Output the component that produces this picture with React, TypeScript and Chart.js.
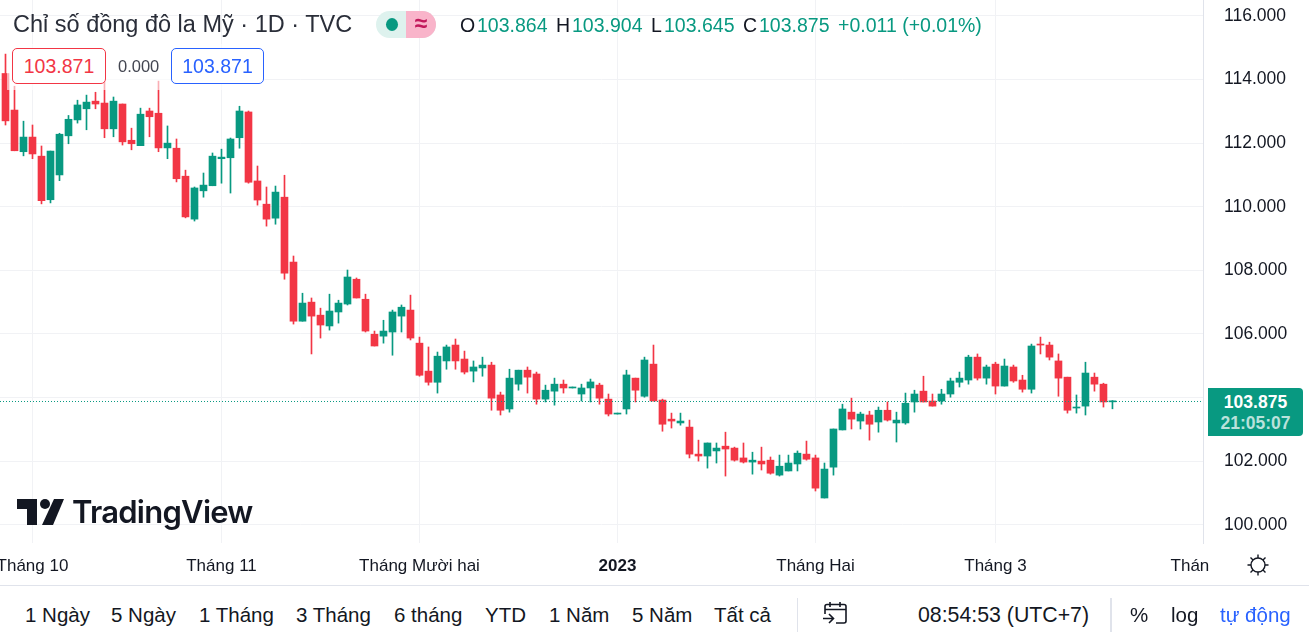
import { useEffect, useRef } from 'react';
import type { CSSProperties } from 'react';
import Chart from 'chart.js/auto';

const GREEN = '#089981';
const RED = '#f23645';
const BLUE = '#2962ff';
const INK = '#131722';
const GRID = '#f1f2f5';
const LINE = '#e0e3eb';
const FONT = '"Liberation Sans", Arial, sans-serif';

const opens = [
  114.19, 113.04, 111.73, 112.19, 111.59, 110.22, 111.0, 112.23, 112.73, 113.08,
  113.32, 113.26, 112.45, 113.23, 112.09, 111.92, 113.01, 112.94, 111.85, 111.84,
  110.96, 109.61, 110.5, 110.66, 111.51, 111.54, 112.17, 112.98, 110.81, 110.08,
  109.64, 110.3, 108.26, 106.4, 107.0, 106.59, 106.25, 106.69, 106.94, 107.72,
  107.09, 105.99, 105.93, 106.06, 106.56, 106.75, 105.71, 104.83, 104.48, 105.15,
  105.65, 105.21, 104.83, 104.93, 105.02, 104.08, 103.64, 104.42, 104.86, 104.74,
  103.95, 104.2, 104.42, 104.3, 104.11, 104.3, 104.39, 103.95, 103.48, 103.64,
  104.61, 104.04, 105.05, 103.92, 103.32, 103.2, 103.07, 102.22, 102.16, 102.32,
  102.47, 102.41, 102.1, 101.97, 102.0, 102.03, 101.56, 101.69, 101.91, 102.22,
  102.1, 100.84, 101.81, 102.98, 103.54, 103.26, 103.45, 103.23, 103.6, 103.2,
  103.2, 103.86, 104.2, 103.89, 103.89, 104.11, 104.48, 104.55, 105.27, 104.61,
  105.05, 104.36, 104.96, 104.55, 104.26, 105.68, 105.65, 105.15, 104.64, 103.67,
  103.73, 104.64, 104.42, 103.864,
];
const highs = [
  114.8, 113.79, 112.69, 112.57, 111.91, 111.75, 112.31, 112.87, 113.35, 113.51,
  113.6, 113.93, 113.45, 113.23, 112.47, 113.1, 113.1, 113.95, 112.54, 112.13,
  111.15, 110.62, 111.06, 111.69, 111.81, 112.16, 113.16, 113.01, 111.28, 110.62,
  110.65, 110.99, 108.45, 107.28, 107.13, 106.81, 107.25, 107.06, 108.01, 107.76,
  107.25, 106.09, 106.43, 106.75, 106.91, 107.22, 105.9, 105.59, 105.43, 105.65,
  105.84, 105.46, 105.15, 105.27, 105.11, 104.17, 104.89, 104.86, 104.96, 104.8,
  104.39, 104.61, 104.55, 104.33, 104.42, 104.58, 104.45, 104.11, 103.51, 104.86,
  104.61, 105.27, 105.65, 103.95, 103.51, 103.51, 103.29, 102.66, 102.57, 102.57,
  102.91, 102.44, 102.57, 102.28, 102.44, 102.13, 102.19, 102.19, 102.32, 102.63,
  102.19, 101.94, 103.01, 103.79, 103.98, 103.54, 103.57, 103.7, 103.86, 103.54,
  104.14, 104.23, 104.67, 104.11, 104.26, 104.61, 104.8, 105.33, 105.37, 105.02,
  105.11, 105.21, 105.02, 104.7, 105.68, 105.9, 105.74, 105.37, 104.64, 104.08,
  105.11, 104.77, 104.45, 103.904,
];
const lows = [
  112.57, 111.76, 111.6, 111.51, 110.09, 110.12, 110.82, 111.98, 112.63, 112.42,
  113.08, 112.17, 112.2, 111.94, 111.79, 111.92, 112.2, 111.73, 111.51, 110.78,
  109.65, 109.55, 110.3, 110.66, 110.74, 110.43, 111.84, 110.74, 110.05, 109.39,
  109.45, 107.72, 106.31, 106.4, 105.37, 105.87, 106.12, 106.34, 106.91, 107.13,
  106.06, 105.62, 105.71, 105.33, 106.06, 105.81, 104.67, 104.39, 104.14, 104.89,
  104.89, 104.74, 104.49, 104.67, 103.6, 103.45, 103.54, 104.23, 104.14, 103.79,
  103.86, 103.76, 104.14, 104.3, 103.89, 103.86, 103.79, 103.42, 103.48, 103.48,
  103.86, 104.01, 103.89, 102.94, 103.04, 103.13, 102.1, 102.0, 101.78, 101.94,
  101.53, 102.0, 101.94, 101.59, 101.72, 101.59, 101.53, 101.69, 101.69, 102.03,
  101.06, 100.84, 101.56, 102.98, 103.01, 103.01, 102.66, 102.91, 103.26, 102.6,
  103.16, 103.54, 103.86, 103.73, 103.79, 104.01, 104.33, 104.42, 104.55, 104.42,
  104.11, 104.36, 104.48, 104.17, 104.14, 105.37, 105.18, 104.04, 103.51, 103.51,
  103.45, 104.2, 103.7, 103.645,
];
const closes = [
  112.7, 111.76, 112.19, 111.66, 110.19, 111.75, 112.28, 112.75, 113.2, 113.29,
  113.23, 112.45, 113.32, 112.04, 111.98, 112.91, 112.83, 111.85, 112.0, 110.88,
  109.68, 110.59, 110.68, 111.59, 111.56, 112.13, 113.01, 110.77, 110.21, 109.61,
  110.46, 107.91, 106.4, 106.97, 106.56, 106.28, 106.72, 106.97, 107.79, 107.13,
  106.09, 105.62, 106.09, 106.69, 106.84, 105.87, 104.7, 104.48, 105.3, 105.59,
  105.15, 104.8, 104.96, 105.02, 103.98, 103.6, 104.61, 104.86, 104.64, 103.95,
  104.23, 104.42, 104.3, 104.33, 104.3, 104.49, 103.98, 103.48, 103.51, 104.71,
  104.23, 105.18, 103.89, 103.16, 103.26, 103.26, 102.22, 102.16, 102.57, 102.41,
  102.38, 102.03, 101.97, 102.03, 101.91, 101.62, 101.84, 101.94, 102.25, 102.06,
  101.15, 101.75, 103.01, 103.64, 103.32, 103.48, 103.16, 103.6, 103.29, 103.29,
  103.82, 104.11, 103.86, 103.73, 104.11, 104.52, 104.61, 105.27, 104.61, 104.96,
  104.36, 104.99, 104.52, 104.26, 105.62, 105.65, 105.27, 104.61, 103.6, 103.7,
  104.77, 104.42, 103.86, 103.875,
];

const lastPrice = 103.875;
const priceTicks = [100, 102, 104, 106, 108, 110, 112, 114, 116];
const timeTicks = [3, 24, 46, 68, 90, 110, 131.61];
const timeLabels = ['Tháng 10', 'Tháng 11', 'Tháng Mười hai', '2023', 'Tháng Hai', 'Tháng 3', 'Thán'];
const ohlc = [
  ['O', '103.864', 460, 477],
  ['H', '103.904', 556, 572],
  ['L', '103.645', 651, 664],
  ['C', '103.875', 743, 759],
] as const;
const ranges = [
  ['1 Ngày', 25],
  ['5 Ngày', 111],
  ['1 Tháng', 199],
  ['3 Tháng', 296],
  ['6 tháng', 394],
  ['YTD', 485],
  ['1 Năm', 549],
  ['5 Năm', 632],
  ['Tất cả', 714],
] as const;

const X_MIN = -0.6111;
const X_MAX = 133.06;

const put = (left: number, top: number, size: number, color: string = INK): CSSProperties => ({
  position: 'absolute',
  left,
  top,
  fontSize: size,
  lineHeight: `${Math.round(size * 1.2)}px`,
  color,
  whiteSpace: 'nowrap',
});

const box = (left: number, width: number, color: string): CSSProperties => ({
  position: 'absolute',
  left,
  top: 48,
  width,
  height: 36,
  boxSizing: 'border-box',
  border: `1px solid ${color}`,
  borderRadius: 5,
  background: '#fff',
  color,
  fontSize: 19.5,
  lineHeight: '34px',
  textAlign: 'center',
});

const App = () => {
  const chartRef = useRef<HTMLCanvasElement>(null);

  useEffect(() => {
    if (!chartRef.current) return;
    const chart = new Chart(chartRef.current, {
      type: 'bar',
      data: {
        datasets: [
          {
            type: 'line',
            data: [
              { x: X_MIN, y: lastPrice },
              { x: X_MAX, y: lastPrice },
            ],
            borderColor: GREEN,
            borderWidth: 1,
            borderDash: [1, 2],
            pointRadius: 0,
            order: 0,
          },
          {
            data: opens.map((o, i) => ({ x: i, y: [o, closes[i]] })),
            backgroundColor: opens.map((o, i) => (closes[i] >= o ? GREEN : RED)),
            barThickness: 7,
            minBarLength: 1,
            grouped: false,
            order: 1,
          },
          {
            data: lows.map((l, i) => ({ x: i, y: [l, highs[i]] })),
            backgroundColor: opens.map((o, i) => (closes[i] >= o ? GREEN : RED)),
            barThickness: 1,
            grouped: false,
            order: 2,
          },
        ],
      } as any,
      options: {
        animation: false,
        responsive: true,
        maintainAspectRatio: false,
        events: [],
        layout: { padding: 0 },
        plugins: { legend: { display: false }, tooltip: { enabled: false } },
        scales: {
          x: {
            type: 'linear',
            offset: false,
            min: X_MIN,
            max: X_MAX,
            afterBuildTicks: (scale: any) => {
              scale.ticks = timeTicks.map((value) => ({ value }));
            },
            afterFit: (scale: any) => {
              scale.height = 42;
              scale.paddingLeft = 0;
              scale.paddingRight = 0;
            },
            grid: {
              offset: false,
              drawTicks: false,
              color: (ctx: any) => (ctx.tick && ctx.tick.value === 131.61 ? 'rgba(0,0,0,0)' : GRID),
            },
            border: { display: false },
            ticks: {
              autoSkip: false,
              maxRotation: 0,
              minRotation: 0,
              padding: 13,
              color: INK,
              font: (ctx: any) => ({
                family: FONT,
                size: 17,
                weight: ctx.tick && ctx.tick.value === 68 ? 'bold' : 'normal',
              }),
              callback: (value: any) => timeLabels[timeTicks.indexOf(Number(value))],
            },
          },
          y: {
            position: 'right',
            min: 99.425,
            max: 116.501,
            afterBuildTicks: (scale: any) => {
              scale.ticks = priceTicks.map((value) => ({ value }));
            },
            afterFit: (scale: any) => {
              scale.width = 106;
              scale.paddingTop = 0;
              scale.paddingBottom = 0;
            },
            grid: { drawTicks: false, color: GRID },
            border: { display: true, color: LINE },
            ticks: {
              padding: 21,
              color: INK,
              font: { family: FONT, size: 17.5 },
              // the 104 label sits behind the last price tag
              callback: (value: any) => (Number(value) === 104 ? '' : Number(value).toFixed(3)),
            },
          },
        },
      },
    });

    return () => {
      chart.destroy();
    };
  }, []);

  return (
    <div
      style={{
        position: 'absolute',
        left: 0,
        top: 0,
        width: 1309,
        height: 644,
        overflow: 'hidden',
        background: '#fff',
        fontFamily: FONT,
        color: INK,
      }}
    >
      <div style={{ position: 'absolute', left: 0, top: 0, width: 1309, height: 585 }}>
        <canvas ref={chartRef} />
      </div>

      {/* legend backdrop */}
      <div style={{ position: 'absolute', left: 7, top: 44, width: 258, height: 46, background: 'rgba(255,255,255,0.6)' }} />
      <div style={put(13, 10, 23.5, '#2a2e39')}>Chỉ số đồng đô la Mỹ · 1D · TVC</div>

      <div style={{ position: 'absolute', left: 376, top: 11, width: 60, height: 27, borderRadius: 14, overflow: 'hidden', background: '#def2ee' }}>
        <div style={{ position: 'absolute', left: 10, top: 7, width: 12, height: 13, borderRadius: '50%', background: GREEN }} />
        <div style={{ position: 'absolute', left: 30, top: 0, width: 30, height: 27, background: '#f9b4ca', color: '#c2185b', fontSize: 23, lineHeight: '25px', textAlign: 'center', fontWeight: 'bold' }}>≈</div>
      </div>

      {ohlc.map(([name, value, nameX, valueX]) => (
        <div key={name}>
          <div style={put(nameX, 14, 19.5)}>{name}</div>
          <div style={put(valueX, 14, 19.5, GREEN)}>{value}</div>
        </div>
      ))}
      <div style={put(838, 14, 19.5, GREEN)}>+0.011 (+0.01%)</div>

      <div style={box(12, 94, RED)}>103.871</div>
      <div style={put(118, 56, 16.5, '#434651')}>0.000</div>
      <div style={box(171, 93, BLUE)}>103.871</div>

      {/* TradingView mark */}
      <svg style={{ position: 'absolute', left: 17, top: 499 }} width="47" height="26" viewBox="0 0 47 26">
        <path d="M0 0H20V26H10V10H0Z" fill={INK} />
        <circle cx="28" cy="5" r="5" fill={INK} />
        <path d="M37 0H47L36 26H25Z" fill={INK} />
      </svg>
      <div style={{ ...put(72, 493, 31), fontFamily: 'Inter, sans-serif', fontWeight: 600, letterSpacing: -0.75 }}>TradingView</div>

      <div style={{ position: 'absolute', left: 1208, top: 388, width: 95, height: 48, borderRadius: '0 4px 4px 0', background: GREEN, textAlign: 'center', fontSize: 17.5 }}>
        <div style={{ color: '#fff', fontWeight: 'bold', lineHeight: '21px', marginTop: 4 }}>103.875</div>
        <div style={{ color: 'rgba(255,255,255,0.72)', fontWeight: 'bold', lineHeight: '21px' }}>21:05:07</div>
      </div>

      {/* clipped axis corner with the settings icon */}
      <svg style={{ position: 'absolute', left: 1246, top: 553 }} width="24" height="24" viewBox="0 0 24 24" fill="none" stroke={INK} strokeWidth="1.4">
        <circle cx="12" cy="12" r="7" />
        <path d="M12 1.5V5M12 19V22.5M1.5 12H5M19 12H22.5M4.5 4.5L7 7M17 17L19.5 19.5M4.5 19.5L7 17M17 7L19.5 4.5" />
      </svg>

      {/* bottom toolbar */}
      <div style={{ position: 'absolute', left: 0, top: 585, width: 1309, height: 1, background: LINE }} />
      {ranges.map(([label, left]) => (
        <div key={label} style={put(left, 602, 20.5)}>
          {label}
        </div>
      ))}
      <div style={{ position: 'absolute', left: 797, top: 598, width: 1, height: 34, background: LINE }} />
      <svg style={{ position: 'absolute', left: 822, top: 601 }} width="27" height="26" viewBox="0 0 27 26" fill="none" stroke={INK} strokeWidth="1.6">
        <path d="M3 13V5.5Q3 3.5 5 3.5H22Q24 3.5 24 5.5V20Q24 22 22 22H14M3 8.5H24M8 1V6M18 1V6M1 17.5H11M7 13L11.5 17.5L7 22" />
      </svg>
      <div style={put(918, 602, 21.3)}>08:54:53 (UTC+7)</div>
      <div style={{ position: 'absolute', left: 1110, top: 598, width: 2, height: 34, background: LINE }} />
      <div style={put(1130, 602, 20.5)}>%</div>
      <div style={put(1171, 602, 20.5)}>log</div>
      <div style={put(1220, 602, 20.5, BLUE)}>tự động</div>
    </div>
  );
};

export default App;
